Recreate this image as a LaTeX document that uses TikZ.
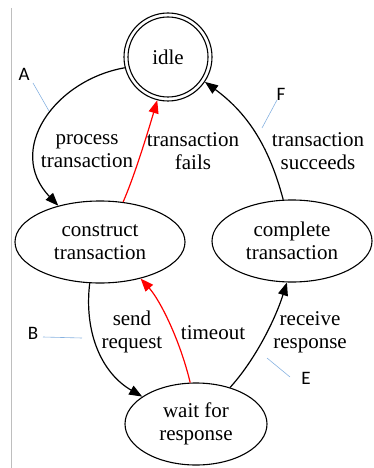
\documentclass[tikz,border=0pt]{standalone}
\usepackage{fontspec}
\setmainfont{Liberation Serif}
\newfontfamily\notefont{Carlito}
\usetikzlibrary{arrows.meta,shapes.geometric}

\definecolor{notecolor}{RGB}{135,178,225}
\definecolor{framegray}{RGB}{190,190,190}

\tikzset{
  state/.style={ellipse, draw, line width=1.1pt, inner sep=0pt,
    minimum width=#1, minimum height=82pt, align=center,
    font=\fontsize{21}{23}\selectfont},
  trans/.style={line width=1.2pt, -{Triangle[length=13pt,width=10pt]}},
  fail/.style={trans, red},
  elabel/.style={align=center, inner sep=0pt, font=\fontsize{21}{23}\selectfont},
  note/.style={inner sep=0pt, font=\notefont\fontsize{19}{21}\selectfont},
  noteline/.style={notecolor, line width=0.6pt},
}

\begin{document}
\begin{tikzpicture}[x=1pt, y=-1pt]
  \useasboundingbox (0,0) rectangle (374,468);

  % left frame rule
  \draw[framegray, line width=1pt] (11,8) -- (11,468);

  % states
  \node[circle, draw, line width=1.1pt, minimum size=88pt, inner sep=0pt,
        font=\fontsize{21}{23}\selectfont] (idle) at (168,57) {idle};
  \node[circle, draw, line width=1.1pt, minimum size=80pt, inner sep=0pt] (idleinner) at (idle) {};
  \node[state=170pt] (construct) at (100,242) {construct\\transaction};
  \node[state=160pt] (complete) at (292,241) {complete\\transaction};
  \node[state=142pt] (wait) at (196,424) {wait for\\response};

  % transitions
  \draw[trans] (idle.194) .. controls (55,80) and (5,150) .. (construct.139);
  \draw[fail] (construct.60) .. controls (135,175) and (150,125) .. (idle.256);
  \draw[trans] (complete.102) .. controls (270,150) and (250,115) .. (idle.326);
  \draw[trans] (construct.256) .. controls (84,330) and (100,372) .. (wait.153);
  \draw[fail] (wait.98) .. controls (180,340) and (160,300) .. (construct.318);
  \draw[trans] (wait.47) .. controls (255,360) and (275,320) .. (complete.263);

  % transition labels
  \node[elabel] (lprocess) at (87,151) {process\\transaction};
  \node[elabel] (lfails) at (193,151) {transaction\\fails};
  \node[elabel] (lsucceeds) at (318,151) {transaction\\succeeds};
  \node[elabel] (lsend) at (132,332) {send\\request};
  \node[elabel] (ltimeout) at (213,333) {timeout};
  \node[elabel] (lreceive) at (310,332) {receive\\response};

  % callout letters
  \node[note] (nA) at (24,74) {A};
  \node[note] (nF) at (281,94) {F};
  \node[note] (nB) at (33,333) {B};
  \node[note] (nE) at (306,378) {E};
  \coordinate (pA) at (49,111);
  \coordinate (pF) at (262,128);
  \coordinate (pB) at (82,338);
  \coordinate (pE) at (267,358);
  \draw[noteline] (33,83) -- (pA);
  \draw[noteline] (277,100) -- (pF);
  \draw[noteline] (43,337) -- (pB);
  \draw[noteline] (290,377) -- (pE);
\end{tikzpicture}
\end{document}
